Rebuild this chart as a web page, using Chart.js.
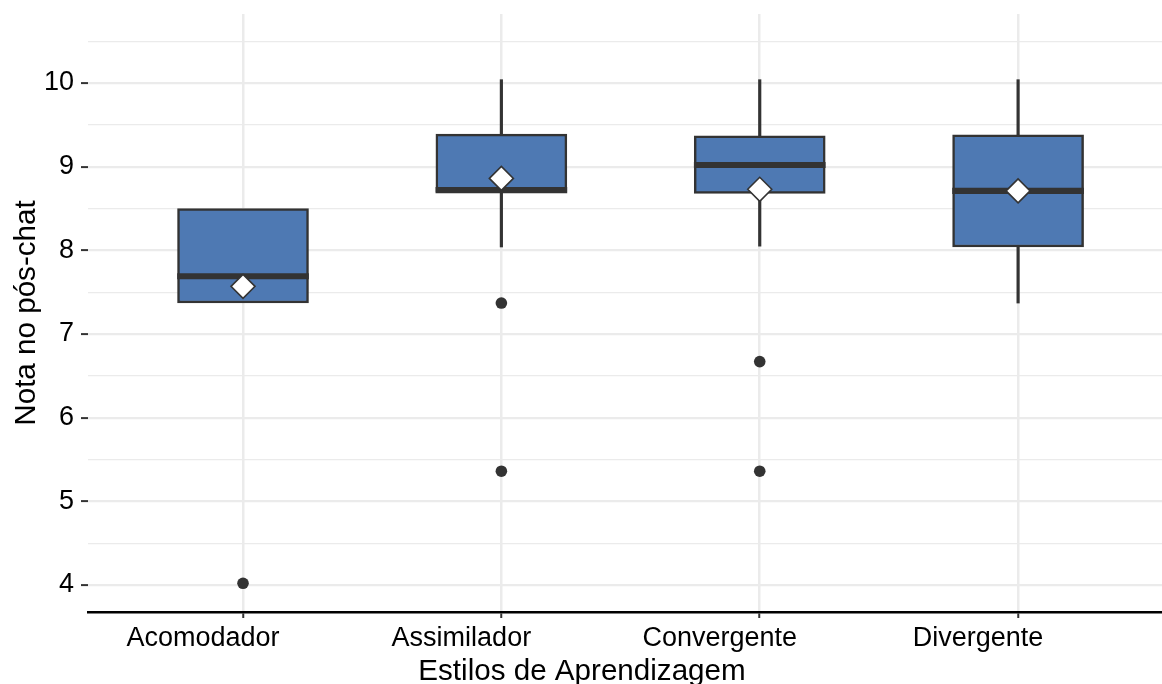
<!DOCTYPE html>
<html>
<head>
<meta charset="utf-8">
<script src="https://cdn.jsdelivr.net/npm/chart.js@4"></script>
<style>
  html,body{margin:0;padding:0;background:#fff}
  #c{display:block}
</style>
</head>
<body>
<canvas id="c" width="1162" height="684"></canvas>
<script>
// dados
const categories = ['Acomodador', 'Assimilador', 'Convergente', 'Divergente']
const q1 = [7.37, 8.70, 8.68, 8.04]
const medians = [7.69, 8.72, 9.02, 8.71]
const q3 = [8.50, 9.39, 9.37, 9.38]
const whiskerLow = [7.37, 8.04, 8.05, 7.37]
const whiskerHigh = [8.50, 10.04, 10.04, 10.04]
const means = [7.57, 8.86, 8.73, 8.71]
const outliers = [[4.02], [7.37, 5.36], [6.67, 5.36], []]
const yTicks = [4, 4.5, 5, 5.5, 6, 6.5, 7, 7.5, 8, 8.5, 9, 9.5, 10, 10.5]
const xTitle = 'Estilos de Aprendizagem'
const yTitle = 'Nota no pós-chat'

const BOX = '#4e79b3', DARK = '#333333', GRID = '#ebebeb'
const FONT = "'Liberation Sans', Arial, Helvetica, sans-serif"
const medHalf = 0.033

const xs = categories.map((c,i)=> i+1)
const whiskers = []
xs.forEach((x,i)=>{
  if(whiskerLow[i] < q1[i]) whiskers.push({x, y:[whiskerLow[i], q1[i]]})
  if(whiskerHigh[i] > q3[i]) whiskers.push({x, y:[q3[i], whiskerHigh[i]]})
})
const outPts = []
outliers.forEach((arr,i)=> arr.forEach(v=> outPts.push({x:i+1, y:v})))

const datasets = [
  { type:'bar', label:'whiskers', data:whiskers, backgroundColor:DARK, borderWidth:0, barThickness:2.5, grouped:false, order:5 },
  { type:'bar', label:'box', data:xs.map((x,i)=>({x, y:[q1[i], q3[i]]})), backgroundColor:BOX, borderColor:DARK, borderWidth:2.5, borderSkipped:false, barThickness:131, grouped:false, order:4 },
  { type:'bar', label:'median', data:xs.map((x,i)=>({x, y:[medians[i]-medHalf, medians[i]+medHalf]})), backgroundColor:DARK, borderWidth:0, barThickness:131, grouped:false, order:3 },
  { type:'scatter', label:'outliers', data:outPts, pointStyle:'circle', pointRadius:5.8, backgroundColor:DARK, borderColor:DARK, borderWidth:0, order:2 },
  { type:'scatter', label:'mean', data:xs.map((x,i)=>({x, y:means[i]})), pointStyle:'rectRot', pointRadius:12, backgroundColor:'#fff', borderColor:DARK, borderWidth:1.6, order:1 }
]

// titulo do eixo x, deslocado para a esquerda como no original
const xTitlePlugin = {
  id:'xTitle',
  afterDraw(chart){
    const ctx = chart.ctx
    ctx.save()
    ctx.font = `29.6px ${FONT}`
    ctx.fillStyle = '#000'
    ctx.textAlign = 'center'
    ctx.textBaseline = 'alphabetic'
    ctx.fillText(xTitle, (chart.chartArea.left + chart.chartArea.right)/2 - 43, 680)
    ctx.restore()
  }
}

new Chart(document.getElementById('c'), {
  type:'bar',
  data:{ datasets },
  plugins:[xTitlePlugin],
  options:{
    responsive:false, animation:false,
    layout:{ autoPadding:false, padding:{ top:14, right:0, left:0, bottom:0 } },
    plugins:{ legend:{display:false}, tooltip:{enabled:false} },
    scales:{
      x:{
        type:'linear', min:0.4, max:4.557, offset:false,
        afterBuildTicks: s=>{ s.ticks = xs.map(v=>({value:v})) },
        afterFit: s=>{ s.height = 72 },
        grid:{ offset:false, color:GRID, lineWidth:2.5, drawTicks:true, tickLength:6, tickColor:DARK, tickWidth:2 },
        border:{ display:true, color:'#000', width:2.5 },
        ticks:{ color:'#000', font:{family:FONT, size:27}, padding:4, labelOffset:-40, maxRotation:0, autoSkip:false,
          callback: v=> categories[v-1] },
        title:{ display:false }
      },
      y:{
        type:'linear', min:3.677, max:10.825,
        afterBuildTicks: s=>{ s.ticks = yTicks.map(v=>({value:v})) },
        afterFit: s=>{ s.width = 88 },
        grid:{
          color:GRID,
          lineWidth: c=> (c.tick && Number.isInteger(c.tick.value)) ? 2.2 : 1.2,
          drawTicks:true, tickLength:7,
          tickColor: c=> (c.tick && Number.isInteger(c.tick.value)) ? DARK : 'rgba(0,0,0,0)',
          tickWidth:2
        },
        border:{ display:false },
        ticks:{ color:'#000', font:{family:FONT, size:27, lineHeight:0.5}, padding:7, autoSkip:false,
          callback: v=> Number.isInteger(v) ? String(v) : '' },
        title:{ display:true, text:yTitle, color:'#000', font:{family:FONT, size:29.6}, padding:{top:9, bottom:0} }
      }
    }
  }
})
</script>
</body>
</html>
